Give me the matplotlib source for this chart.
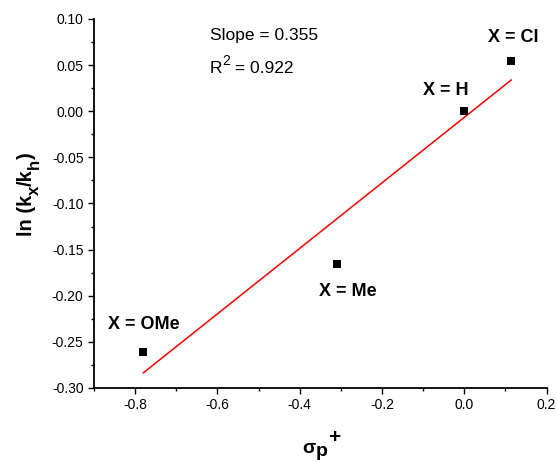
import numpy as np
import matplotlib
matplotlib.use("Agg")
import matplotlib.pyplot as plt
from matplotlib.ticker import MultipleLocator, FuncFormatter

plt.rcParams['font.family'] = ['Liberation Sans', 'DejaVu Sans']

substituents = ['X = OMe', 'X = Me', 'X = H', 'X = Cl']
sigma_p = [-0.78, -0.31, 0.0, 0.114]
ln_ratio = [-0.261, -0.166, 0.0, 0.054]
label_offsets = [(0, 19.5), (8, -19.5), (-13, 15), (1.5, 17.5)]

fig = plt.figure(figsize=(5.56, 4.62), dpi=100)
ax = fig.add_axes([0.169, 0.1602, 0.814, 0.7987])

slope, intercept = np.polyfit(sigma_p, ln_ratio, 1)
xf = np.array([min(sigma_p), max(sigma_p)])
ax.plot(xf, slope * xf + intercept, color='red', lw=1.1, zorder=2)
ax.scatter(sigma_p, ln_ratio, marker='s', s=38, color='black', zorder=3, linewidths=0)

for name, x, y, off in zip(substituents, sigma_p, ln_ratio, label_offsets):
    ax.annotate(name, (x, y), xytext=off, textcoords='offset points',
                ha='center', va='center', fontsize=13, fontweight='bold')

# Statistics text
ax.text(0.256, 0.943, 'Slope = 0.355', transform=ax.transAxes, fontsize=12.5, va='baseline')
r = ax.annotate('R', xy=(210, 462 - 72.7), xycoords='figure pixels', fontsize=12.5,
                ha='left', va='baseline', annotation_clip=False)
r2 = ax.annotate('2', xy=(1, 462 - 65), xycoords=(r, 'figure pixels'), fontsize=10,
                 ha='left', va='baseline', annotation_clip=False)
ax.annotate(' = 0.922', xy=(1, 462 - 72.7), xycoords=(r2, 'figure pixels'), fontsize=12.5,
            ha='left', va='baseline', annotation_clip=False)

ax.set_xlim(-0.9, 0.2)
ax.set_ylim(-0.30, 0.10)
ax.xaxis.set_major_locator(MultipleLocator(0.2))
ax.xaxis.set_minor_locator(MultipleLocator(0.1))
ax.yaxis.set_major_locator(MultipleLocator(0.05))
ax.yaxis.set_minor_locator(MultipleLocator(0.025))
ax.xaxis.set_major_formatter(FuncFormatter(lambda v, p: f'{v:.1f}'.replace('-0.0', '0.0')))
ax.yaxis.set_major_formatter(FuncFormatter(lambda v, p: f'{v:.2f}'.replace('-0.00', '0.00')))

for s in ['top', 'right']:
    ax.spines[s].set_visible(False)
for s in ['left', 'bottom']:
    ax.spines[s].set_linewidth(1.3)
ax.tick_params(which='major', direction='out', length=4.5, width=1.0, labelsize=10, pad=3)
ax.tick_params(which='minor', direction='out', length=2.5, width=1.0)

# X axis label: sigma_p^+
kw = dict(fontweight='bold', annotation_clip=False, ha='left')
s1 = ax.annotate('σ', xy=(302.5, 462 - 453), xycoords='figure pixels', fontsize=14, va='baseline', **kw)
s2 = ax.annotate('p', xy=(1, 462 - 456), xycoords=(s1, 'figure pixels'), fontsize=14, va='baseline', **kw)
ax.annotate('+', xy=(1, 462 - 437.5), xycoords=(s2, 'figure pixels'), fontsize=15, va='center', **kw)

# Y axis label: ln (k_x/k_h), rotated
ykw = dict(fontweight='bold', annotation_clip=False, ha='left', va='baseline',
           rotation=90, rotation_mode='anchor')
base_x, sub_x = 32.0, 39.0
y1 = ax.annotate('ln (k', xy=(base_x, 462 - 236), xycoords='figure pixels', fontsize=14.5, **ykw)
y2 = ax.annotate('x', xy=(sub_x, 1), xycoords=('figure pixels', y1), fontsize=12, **ykw)
y3 = ax.annotate('/k', xy=(base_x, 1), xycoords=('figure pixels', y2), fontsize=14.5, **ykw)
y4 = ax.annotate('h', xy=(sub_x, 1), xycoords=('figure pixels', y3), fontsize=12, **ykw)
ax.annotate(')', xy=(base_x, 1), xycoords=('figure pixels', y4), fontsize=14.5, **ykw)

fig.savefig('out.png', dpi=100)
